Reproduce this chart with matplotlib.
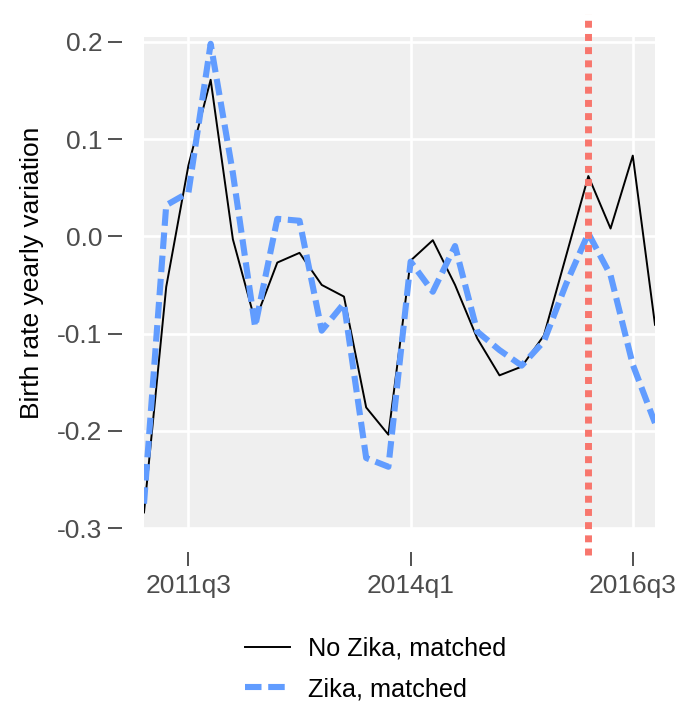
import matplotlib
matplotlib.use("Agg")
import matplotlib.pyplot as plt

# quarterly data, 2011q1 .. 2016q4
quarters = [f"{y}q{q}" for y in range(2011, 2017) for q in range(1, 5)]
no_zika = [-0.284, -0.052, 0.073, 0.161, -0.003, -0.087, -0.027, -0.017,
           -0.050, -0.062, -0.176, -0.204, -0.025, -0.004, -0.050, -0.105,
           -0.143, -0.134, -0.102, -0.020, 0.062, 0.008, 0.083, -0.091]
zika = [-0.275, 0.032, 0.045, 0.198, 0.065, -0.093, 0.018, 0.016,
        -0.097, -0.069, -0.228, -0.237, -0.026, -0.057, -0.010, -0.098,
        -0.117, -0.133, -0.108, -0.049, 0.003, -0.040, -0.132, -0.192]
tick_quarters = ["2011q3", "2014q1", "2016q3"]
event_quarter = "2016q1"
y_ticks = [0.2, 0.1, 0.0, -0.1, -0.2, -0.3]

plt.rcParams["font.family"] = ["Liberation Sans", "DejaVu Sans"]

fig = plt.figure(figsize=(6.81, 7.02), dpi=100)
ax = fig.add_axes([144 / 681, 1 - 528 / 702, 511 / 681, 491 / 702])
ax.set_facecolor("#EFEFEF")

x = list(range(len(quarters)))
ax.plot(x, no_zika, color="black", lw=1.4, label="No Zika, matched", zorder=3)
ax.plot(x, zika, color="#619CFF", lw=4.4, linestyle=(0, (2.7, 1.1)),
        label="Zika, matched", zorder=4)
ax.axvline(quarters.index(event_quarter), ymin=-0.055, ymax=1.047, clip_on=False,
           color="#F8766D", lw=5, linestyle=(0, (1, 0.9)), zorder=5)

ax.set_xlim(0, len(quarters) - 1)
ax.set_ylim(-0.297, 0.205)
ax.set_xticks([quarters.index(q) for q in tick_quarters])
ax.set_xticklabels(tick_quarters)
ax.set_yticks(y_ticks)
ax.set_yticklabels([f"{v:.1f}" for v in y_ticks])

ax.grid(True, color="white", lw=1.9)
ax.set_axisbelow(True)
for side in ["top", "right"]:
    ax.spines[side].set_visible(False)
ax.spines["left"].set_position(("outward", 16))
ax.spines["bottom"].set_position(("outward", 17))
ax.spines["left"].set_visible(False)
ax.spines["bottom"].set_visible(False)
ax.tick_params(axis="both", length=10, width=1.2, color="#333333",
               labelcolor="#4D4D4D", labelsize=19, pad=4)
ax.tick_params(axis="x", pad=6)

ax.set_ylabel("Birth rate yearly variation", fontsize=19, color="black")
ax.yaxis.set_label_coords(-0.196, 0.52)

fig.legend(loc="center", bbox_to_anchor=(375.5 / 681, 1 - 669 / 702),
           frameon=False, fontsize=18.2, handlelength=1.8, handletextpad=0.7,
           labelspacing=0.65)

fig.savefig("out.png", dpi=100)
